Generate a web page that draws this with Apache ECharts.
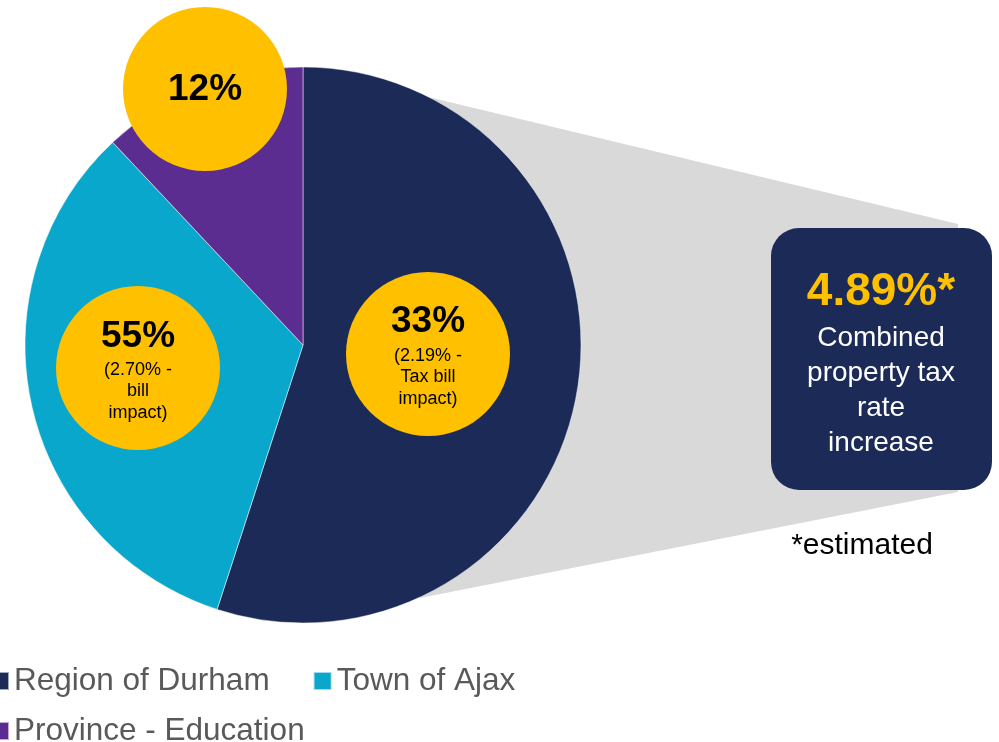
<!DOCTYPE html>
<html>
<head>
<meta charset="utf-8">
<script src="https://cdn.jsdelivr.net/npm/echarts@6/dist/echarts.min.js"></script>
<style>
  html, body { margin: 0; padding: 0; background: #fff; }
  #container { width: 999px; height: 742px; }
</style>
</head>
<body>
<div id="container"></div>
<script>
// data
var names = ['Region of Durham', 'Town of Ajax', 'Province - Education'];
var shares = [55, 33, 12];
var colors = ['#1b2a57', '#0aa7cc', '#5c2d91'];
// text shown in the yellow circles (as printed on the original)
var bigLabels = ['33%', '55%', '12%'];
var smallLabels = [['(2.19% -', 'Tax bill', 'impact)'], ['(2.70% -', 'bill', 'impact)'], []];
var totalLabel = '4.89%*';
var totalLines = ['Combined', 'property tax', 'rate', 'increase'];

var dom = document.getElementById('container');
var myChart = echarts.init(dom);

var font = '"Liberation Sans", Arial, sans-serif';

function bubble(cx, cy, idx, bigY, smallY) {
    var items = [{
        type: 'circle', z: 100,
        shape: { cx: cx, cy: cy, r: 82 },
        style: { fill: '#ffc000' }
    }, {
        type: 'text', z: 101, x: cx, y: bigY,
        style: { text: bigLabels[idx], font: 'bold 37px ' + font, fill: '#000', align: 'center', verticalAlign: 'middle' }
    }];
    smallLabels[idx].forEach(function (t, i) {
        items.push({
            type: 'text', z: 101, x: cx, y: smallY + i * 21.5,
            style: { text: t, font: '18px ' + font, fill: '#000', align: 'center', verticalAlign: 'middle' }
        });
    });
    return items;
}

var graphics = [{
    type: 'polygon', z: -10,
    shape: { points: [[303, 67], [958, 224], [958, 492], [420, 598], [303, 598]] },
    style: { fill: '#d9d9d9' }
}, {
    type: 'rect', z: 50,
    shape: { x: 771, y: 228, width: 221, height: 262, r: 28 },
    style: { fill: '#1b2a57' }
}, {
    type: 'text', z: 51, x: 881, y: 292,
    style: { text: totalLabel, font: 'bold 46px ' + font, fill: '#ffc000', align: 'center', verticalAlign: 'middle' }
}, {
    type: 'text', x: 862, y: 546,
    style: { text: '*estimated', font: '30px ' + font, fill: '#000', align: 'center', verticalAlign: 'middle' }
}];
totalLines.forEach(function (t, i) {
    graphics.push({
        type: 'text', z: 51, x: 881, y: 338 + i * 35,
        style: { text: t, font: '28px ' + font, fill: '#fff', align: 'center', verticalAlign: 'middle' }
    });
});
graphics = graphics
    .concat(bubble(428, 354, 0, 322, 356))
    .concat(bubble(138, 368, 1, 337, 370))
    .concat(bubble(205, 89, 2, 90, 0));

var legendBase = {
    itemWidth: 18,
    itemHeight: 18,
    itemGap: 43,
    icon: 'rect',
    textStyle: { fontSize: 31.5, color: '#595959', fontFamily: font }
};

var option = {
    backgroundColor: '#fff',
    animation: false,
    color: colors,
    legend: [
        Object.assign({ left: -15, top: 660, data: names.slice(0, 2) }, legendBase),
        Object.assign({ left: -15, top: 710, data: names.slice(2) }, legendBase)
    ],
    graphic: graphics,
    series: [{
        type: 'pie',
        center: [303, 345],
        radius: 278,
        startAngle: 90,
        clockwise: true,
        label: { show: false },
        labelLine: { show: false },
        emphasis: { disabled: true },
        itemStyle: { borderColor: 'rgba(255,255,255,0.6)', borderWidth: 0.8 },
        data: names.map(function (n, i) { return { name: n, value: shares[i] }; })
    }]
};

myChart.setOption(option, true);
</script>
</body>
</html>
